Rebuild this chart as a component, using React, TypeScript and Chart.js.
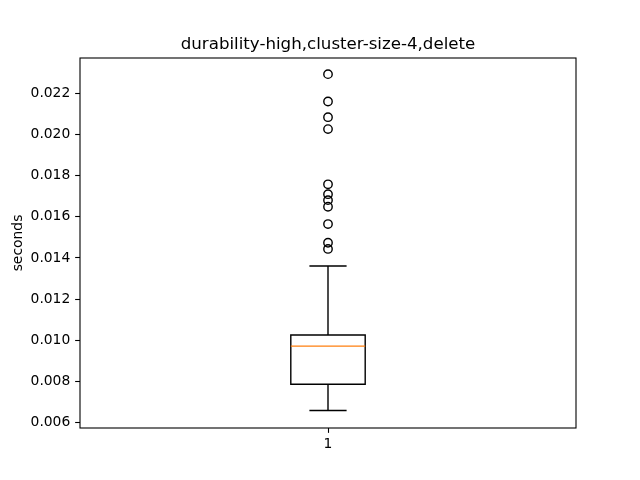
import React, { useEffect, useRef } from "react";
import { Chart, registerables } from "chart.js";

Chart.register(...registerables);

const title = "durability-high,cluster-size-4,delete";
const yLabel = "seconds";
const categories = ["1"];
const boxPositions = [1];
const whiskerLow = [0.00659];
const q1 = [0.00787];
const median = [0.00972];
const q3 = [0.01026];
const whiskerHigh = [0.01361];
const outliers = [0.02293, 0.0216, 0.02084, 0.02026, 0.01758, 0.0171, 0.01681, 0.01649, 0.01565, 0.01474, 0.01444];
const yTicks = [0.006, 0.008, 0.01, 0.012, 0.014, 0.016, 0.018, 0.02, 0.022];
const yMin = 0.005743;
const yMax = 0.023714;

const PT = 100 / 72;
const BOX_W = 0.15;

const boxPlugin = {
  id: "boxDraw",
  afterDatasetsDraw(chart: any) {
    const { ctx, scales } = chart;
    const xs = scales.x;
    const ys = scales.y;
    ctx.save();
    ctx.lineWidth = 1.4;
    boxPositions.forEach((p, i) => {
      const xl = xs.getPixelForValue(p - BOX_W / 2);
      const xr = xs.getPixelForValue(p + BOX_W / 2);
      const xc = xs.getPixelForValue(p);
      const cl = xs.getPixelForValue(p - BOX_W / 4);
      const cr = xs.getPixelForValue(p + BOX_W / 4);
      const yq1 = ys.getPixelForValue(q1[i]);
      const yq3 = ys.getPixelForValue(q3[i]);
      const ylo = ys.getPixelForValue(whiskerLow[i]);
      const yhi = ys.getPixelForValue(whiskerHigh[i]);
      const ym = ys.getPixelForValue(median[i]);
      ctx.strokeStyle = "#000000";
      ctx.beginPath();
      ctx.rect(xl, yq3, xr - xl, yq1 - yq3);
      ctx.moveTo(xc, yq3);
      ctx.lineTo(xc, yhi);
      ctx.moveTo(cl, yhi);
      ctx.lineTo(cr, yhi);
      ctx.moveTo(xc, yq1);
      ctx.lineTo(xc, ylo);
      ctx.moveTo(cl, ylo);
      ctx.lineTo(cr, ylo);
      ctx.stroke();
      ctx.strokeStyle = "#ff7f0e";
      ctx.beginPath();
      ctx.moveTo(xl, ym);
      ctx.lineTo(xr, ym);
      ctx.stroke();
    });
    ctx.restore();
  },
  afterDraw(chart: any) {
    const { ctx, chartArea } = chart;
    ctx.save();
    ctx.strokeStyle = "#000000";
    ctx.lineWidth = 1.1;
    ctx.strokeRect(chartArea.left, chartArea.top, chartArea.right - chartArea.left, chartArea.bottom - chartArea.top);
    ctx.restore();
  },
};

export default function App() {
  const ref = useRef<HTMLCanvasElement | null>(null);
  useEffect(() => {
    document.body.style.margin = "0";
    if (!ref.current) return;
    Chart.defaults.font.family = "'DejaVu Sans', sans-serif";
    Chart.defaults.color = "#000000";
    const chart = new Chart(ref.current, {
      type: "scatter",
      data: {
        datasets: [
          {
            label: "outliers",
            data: outliers.map((v) => ({ x: boxPositions[0], y: v })),
            pointStyle: "circle",
            pointRadius: 4.2,
            pointHoverRadius: 4.2,
            borderColor: "#000000",
            backgroundColor: "rgba(0,0,0,0)",
            borderWidth: 1.4,
          },
        ],
      },
      options: {
        animation: false,
        responsive: false,
        events: [],
        layout: { padding: { left: 0, right: 64, top: 0, bottom: 0 } },
        plugins: {
          legend: { display: false },
          tooltip: { enabled: false },
          title: {
            display: true,
            fullSize: false,
            text: title,
            color: "#000000",
            font: { size: 12 * PT, weight: "normal", family: "'DejaVu Sans', sans-serif" },
            padding: { top: 35, bottom: 3 },
          },
        },
        scales: {
          x: {
            type: "linear",
            min: 0.5,
            max: 1.5,
            afterBuildTicks: (scale: any) => {
              scale.ticks = boxPositions.map((v) => ({ value: v }));
            },
            afterFit: (scale: any) => {
              scale.height = 52;
            },
            ticks: {
              color: "#000000",
              font: { size: 10 * PT },
              padding: 3,
              maxRotation: 0,
              callback: (v: any) => categories[boxPositions.indexOf(Number(v))] ?? "",
            },
            grid: {
              display: true,
              drawOnChartArea: false,
              drawTicks: true,
              tickLength: 3.5 * PT,
              tickColor: "#000000",
              tickWidth: 1.1,
            },
            border: { display: false },
          },
          y: {
            type: "linear",
            min: yMin,
            max: yMax,
            afterBuildTicks: (scale: any) => {
              scale.ticks = yTicks.map((v) => ({ value: v }));
            },
            afterFit: (scale: any) => {
              scale.width = 80;
            },
            title: {
              display: true,
              text: yLabel,
              color: "#000000",
              font: { size: 10 * PT },
              padding: { top: 10, bottom: 0 },
            },
            ticks: {
              color: "#000000",
              font: { size: 10 * PT },
              padding: 3.5 * PT,
              callback: (v: any) => Number(v).toFixed(3),
            },
            grid: {
              display: true,
              drawOnChartArea: false,
              drawTicks: true,
              tickLength: 3.5 * PT,
              tickColor: "#000000",
              tickWidth: 1.1,
            },
            border: { display: false },
          },
        },
      },
      plugins: [boxPlugin],
    } as any);
    return () => chart.destroy();
  }, []);
  return (
    <div style={{ position: "absolute", left: 0, top: 0, width: 640, height: 480, background: "#ffffff" }}>
      <canvas ref={ref} width={640} height={480} style={{ width: 640, height: 480 }} />
    </div>
  );
}
